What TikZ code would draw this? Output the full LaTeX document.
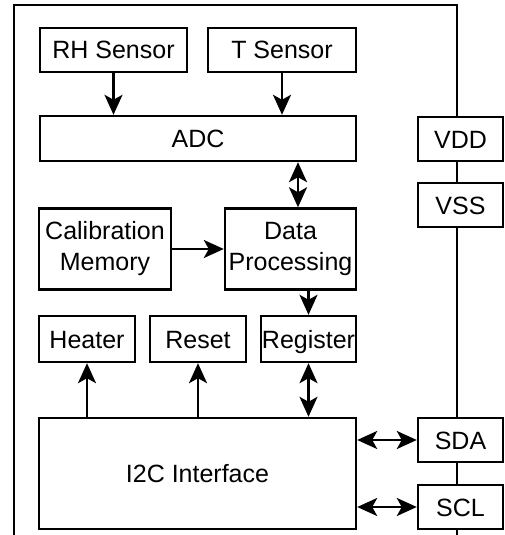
\documentclass[tikz,border=0pt]{standalone}
\usepackage{fontspec}
\setmainfont{Liberation Sans}
\usetikzlibrary{arrows.meta}
\begin{document}
\begin{tikzpicture}[x = 1pt, y = -1pt, line width = 2.4pt,
    blk/.style = {draw, fill = white, inner sep = 0pt, align = center,
      font = \fontsize{25}{31}\selectfont},
    one/.style = {blk, text height = 18pt, text depth = 0pt},
    sig/.style = {-{Stealth[length = 20pt, width = 18pt, inset = 5pt]}},
    bus/.style = {{Stealth[length = 20pt, width = 18pt, inset = 5pt]}-{Stealth[length = 20pt, width = 18pt, inset = 5pt]}}]
      \useasboundingbox (0, 0) rectangle (504, 535);
      \draw (14, 535) -- (14, 5) -- (457, 5) -- (457, 535);
      \node [one, minimum width = 147, minimum height = 44] (rh) at (113.5, 50) {RH Sensor};
      \node [one, minimum width = 148, minimum height = 44] (temp) at (282, 50) {T Sensor};
      \node [one, minimum width = 316, minimum height = 45] (adc) at (198, 138.5) {ADC};
      \node [blk, minimum width = 132, minimum height = 81] (calib) at (105, 249) {Calibration\\Memory};
      \node [blk, minimum width = 131, minimum height = 81] (proc) at (290.5, 249) {Data\\Processing};
      \node [one, minimum width = 96, minimum height = 46] (heater) at (87, 339) {Heater};
      \node [one, minimum width = 96, minimum height = 46] (reset) at (198, 339) {Reset};
      \node [one, minimum width = 95, minimum height = 46] (reg) at (308.5, 339) {Register};
      \node [one, minimum width = 317, minimum height = 111] (i2c) at (197.5, 473.5) {I2C Interface};
      \node [one, minimum width = 85, minimum height = 44] (vdd) at (460.5, 139) {VDD};
      \node [one, minimum width = 85, minimum height = 44] (vss) at (460.5, 205) {VSS};
      \node [one, minimum width = 85, minimum height = 44] (sda) at (460.5, 440) {SDA};
      \node [one, minimum width = 85, minimum height = 44] (scl) at (460.5, 507) {SCL};
      \draw [sig] (rh.south) -- (rh.south |- adc.north);
      \draw [sig] (temp.south) -- (temp.south |- adc.north);
      \draw [bus] ([xshift = 7.5pt] proc.north |- adc.south) -- ([xshift = 7.5pt] proc.north);
      \draw [sig] (calib.east) -- (calib.east -| proc.west);
      \draw [sig] (reg.north |- proc.south) -- (reg.north);
      \draw [sig] (heater.south |- i2c.north) -- (heater.south);
      \draw [sig] (reset.south |- i2c.north) -- (reset.south);
      \draw [bus] (reg.south) -- (reg.south |- i2c.north);
      \draw [bus] (i2c.east |- sda.west) -- (sda.west);
      \draw [bus] (i2c.east |- scl.west) -- (scl.west);
    \end{tikzpicture}
\end{document}
